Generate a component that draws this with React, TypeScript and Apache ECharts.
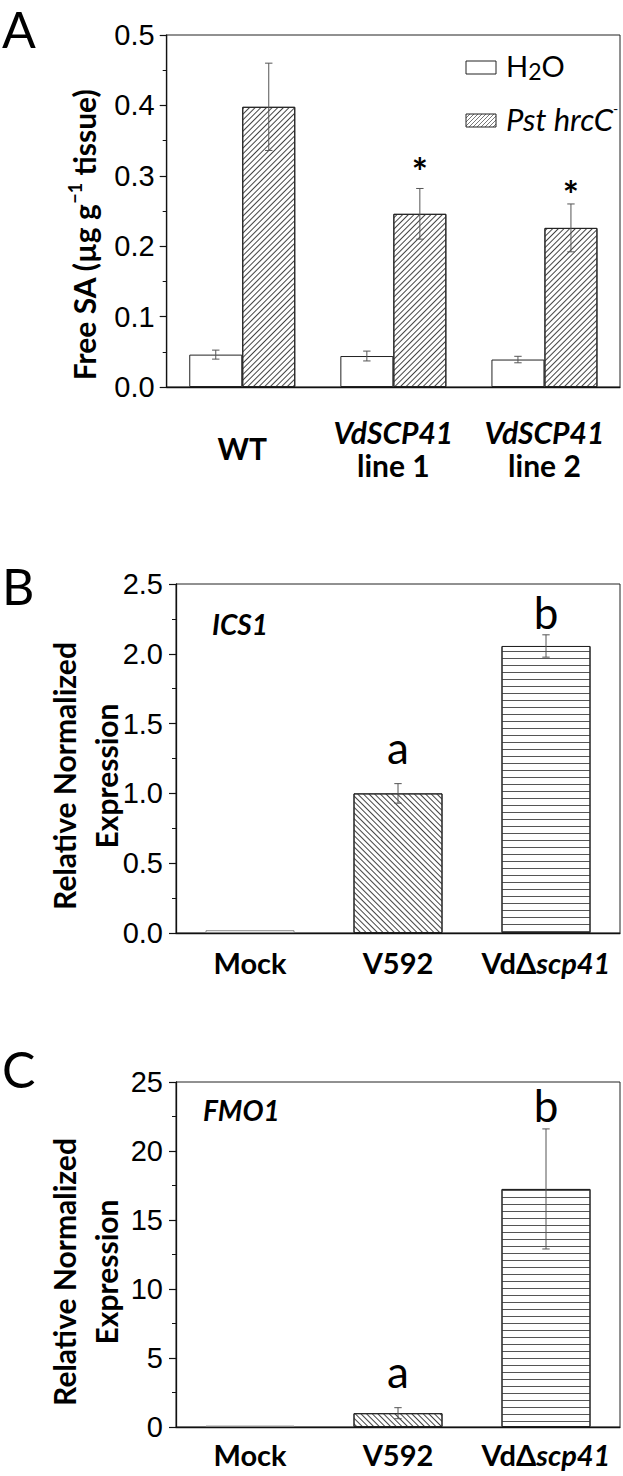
import React, { useEffect, useRef } from "react";
import * as echarts from "echarts";

// ---------- Data ----------
const catsA = ["WT", "VdSCP41\nline 1", "VdSCP41\nline 2"];
const h2oMean = [0.046, 0.044, 0.039];
const h2oErr = [0.0064, 0.007, 0.0046];
const pstMean = [0.398, 0.246, 0.226];
const pstErr = [0.062, 0.036, 0.034];
const starY = [null, 0.319, 0.287];
const yTicksA = [0, 0.1, 0.2, 0.3, 0.4, 0.5];

const catsBC = ["Mock", "V592", "VdΔscp41"];
const ics1Mean = [0.02, 1.0, 2.056];
const ics1Err = [0, 0.07, 0.08];
const ics1Letters = ["", "a", "b"];
const ics1LetterY = [null, 1.226, 2.193];
const yTicksB = [0, 0.5, 1.0, 1.5, 2.0, 2.5];

const fmo1Mean = [0.1, 1.0, 17.25];
const fmo1Err = [0, 0.4, 4.35];
const fmo1Letters = ["", "a", "b"];
const fmo1LetterY = [null, 2.99, 22.25];
const yTicksC = [0, 5, 10, 15, 20, 25];

// ---------- Styles ----------
const SANS = "'Liberation Sans', Arial, sans-serif";
const CAL = "Lato, 'Open Sans', sans-serif";
const AX = "#111";
const W = 623;

const BAR_A = 53;
const BAR_BC = 89;

const hatch = (rotation: number, gap: number, color = "#444") => ({
  symbol: "rect",
  symbolSize: 1,
  dashArrayX: [1, 0],
  dashArrayY: [1, gap],
  rotation,
  color,
});

const grids = [
  { left: 166.7, top: 35, width: 620 - 166.7, height: 352 },
  { left: 176, top: 584, width: 620 - 176, height: 349 },
  { left: 176, top: 1082, width: 620 - 176, height: 345 },
];

function yAxisCfg(gi: number, ticks: number[], dec: number, margin: number) {
  return {
    gridIndex: gi,
    type: "value",
    min: ticks[0],
    max: ticks[ticks.length - 1],
    interval: ticks[1] - ticks[0],
    splitLine: { show: false },
    axisLine: { show: true, lineStyle: { color: AX, width: 1.3 } },
    axisTick: { show: true, length: 7, lineStyle: { color: AX, width: 1.2 } },
    minorTick: { show: true, splitNumber: 2, length: 4, lineStyle: { color: AX, width: 1 } },
    axisLabel: {
      margin,
      fontSize: 29,
      fontFamily: SANS,
      color: "#000",
      formatter: (v: number) => v.toFixed(dec),
    },
  };
}

function xAxisBC(gi: number, margin: number) {
  return {
    gridIndex: gi,
    type: "category",
    data: catsBC,
    axisLine: { lineStyle: { color: AX, width: 1.3 } },
    axisTick: { alignWithLabel: true, length: 7, lineStyle: { color: AX, width: 1.2 } },
    axisLabel: {
      margin,
      interval: 0,
      formatter: (v: string) => {
        if (v.indexOf("Δ") >= 0) {
          const [a, b] = v.split("Δ");
          return "{n|" + a + "Δ}{i|" + b + "}";
        }
        return "{n|" + v + "}";
      },
      rich: {
        n: { fontFamily: CAL, fontWeight: "bold", fontSize: 29, lineHeight: 34, color: "#000" },
        i: { fontFamily: CAL, fontWeight: "bold", fontStyle: "italic", fontSize: 29, lineHeight: 34, color: "#000" },
      },
    },
  };
}

function errRender(offset: number) {
  return (params: any, api: any) => {
    const i = api.value(0);
    const m = api.value(1);
    const e = api.value(2);
    if (!e) return null;
    const t = api.coord([i, m + e]);
    const b = api.coord([i, m - e]);
    const x = t[0] + offset;
    const cap = 3.7;
    const st = { stroke: "#555", lineWidth: 1 };
    return {
      type: "group",
      children: [
        { type: "line", shape: { x1: x, y1: t[1], x2: x, y2: b[1] }, style: st },
        { type: "line", shape: { x1: x - cap, y1: t[1], x2: x + cap, y2: t[1] }, style: st },
        { type: "line", shape: { x1: x - cap, y1: b[1], x2: x + cap, y2: b[1] }, style: st },
      ],
    };
  };
}

function textRender(labels: string[], fontSize: number, weight: string, shiftEm: number, offset: number) {
  return (params: any, api: any) => {
    const i = api.value(0);
    const y = api.value(1);
    const label = labels[params.dataIndex];
    if (!label) return null;
    const c = api.coord([i, y]);
    return {
      type: "text",
      x: c[0] + offset,
      y: c[1] - shiftEm * fontSize,
      style: {
        text: label,
        fontFamily: CAL,
        fontSize,
        fontWeight: weight,
        fill: "#000",
        align: "center",
        verticalAlign: "middle",
      },
    };
  };
}

function legendHatch(L: number, T: number, Wd: number, H: number, s: number) {
  const out: any[] = [];
  for (let t = -H; t < Wd; t += s) {
    const u0 = Math.max(0, -t);
    const u1 = Math.min(H, Wd - t);
    if (u1 <= u0) continue;
    out.push({
      type: "line",
      shape: { x1: L + t + u0, y1: T + H - u0, x2: L + t + u1, y2: T + H - u1 },
      style: { stroke: "#555", lineWidth: 0.8 },
    });
  }
  return out;
}

const panelLetter = (t: string, y: number) => ({
  type: "text",
  x: 2,
  y,
  style: { text: t, fontFamily: CAL, fontSize: 50, lineHeight: 50, fill: "#000", verticalAlign: "middle" },
});

export default function App() {
  const ref = useRef<HTMLDivElement>(null);
  useEffect(() => {
    if (!ref.current) return;
    const chart = echarts.init(ref.current, null, { renderer: "svg" });

    const barStyleBC = [
      { color: "#fff", borderColor: "#888", borderWidth: 1 },
      { color: "#fff", borderColor: "#222", borderWidth: 1, decal: hatch(Math.PI / 4, 3) },
      { color: "#fff", borderColor: "#222", borderWidth: 1, decal: hatch(0, 6, "#555") },
    ];

    const option: any = {
      animation: false,
      grid: grids.map((g) => ({ ...g, show: true, borderColor: "#222", borderWidth: 1, containLabel: false })),
      xAxis: [
        {
          gridIndex: 0,
          type: "category",
          data: catsA,
          axisLine: { lineStyle: { color: AX, width: 1.3 } },
          axisTick: { alignWithLabel: true, length: 7, lineStyle: { color: AX, width: 1.2 } },
          axisLabel: {
            margin: 28,
            interval: 0,
            formatter: (v: string) => {
              const parts = v.split("\n");
              if (parts.length === 1) return "{w|" + v + "}";
              return "{i|" + parts[0] + "}\n{n|" + parts[1] + "}";
            },
            rich: {
              w: { fontFamily: CAL, fontWeight: "bold", fontSize: 30, lineHeight: 66, color: "#000" },
              i: { fontFamily: CAL, fontWeight: "bold", fontStyle: "italic", fontSize: 30, lineHeight: 33, color: "#000" },
              n: { fontFamily: CAL, fontWeight: "bold", fontSize: 30, lineHeight: 33, color: "#000" },
            },
          },
        },
        xAxisBC(1, 12),
        xAxisBC(2, 10),
      ],
      yAxis: [yAxisCfg(0, yTicksA, 1, 12), yAxisCfg(1, yTicksB, 1, 13), yAxisCfg(2, yTicksC, 0, 13)],
      series: [
        {
          name: "H2O",
          type: "bar",
          xAxisIndex: 0,
          yAxisIndex: 0,
          data: h2oMean,
          barWidth: BAR_A,
          barGap: "0%",
          itemStyle: { color: "#fff", borderColor: "#222", borderWidth: 1 },
        },
        {
          name: "Pst hrcC-",
          type: "bar",
          xAxisIndex: 0,
          yAxisIndex: 0,
          data: pstMean,
          barWidth: BAR_A,
          barGap: "0%",
          itemStyle: { color: "#fff", borderColor: "#222", borderWidth: 1, decal: hatch(-Math.PI / 4, 3) },
        },
        {
          type: "custom",
          xAxisIndex: 0,
          yAxisIndex: 0,
          z: 10,
          encode: { x: 0, y: 1 },
          data: h2oMean.map((m, i) => [i, m, h2oErr[i]]),
          renderItem: errRender(-BAR_A / 2),
        },
        {
          type: "custom",
          xAxisIndex: 0,
          yAxisIndex: 0,
          z: 10,
          encode: { x: 0, y: 1 },
          data: pstMean.map((m, i) => [i, m, pstErr[i]]),
          renderItem: errRender(BAR_A / 2),
        },
        {
          type: "custom",
          xAxisIndex: 0,
          yAxisIndex: 0,
          z: 10,
          encode: { x: 0, y: 1 },
          data: starY.map((y, i) => [i, y == null ? 0 : y]),
          renderItem: textRender(starY.map((y) => (y == null ? "" : "*")), 38, "bold", -0.23, BAR_A / 2),
        },
        {
          type: "bar",
          xAxisIndex: 1,
          yAxisIndex: 1,
          barWidth: BAR_BC,
          data: ics1Mean.map((v, i) => ({ value: v, itemStyle: barStyleBC[i] })),
        },
        {
          type: "custom",
          xAxisIndex: 1,
          yAxisIndex: 1,
          z: 10,
          encode: { x: 0, y: 1 },
          data: ics1Mean.map((m, i) => [i, m, ics1Err[i]]),
          renderItem: errRender(0),
        },
        {
          type: "custom",
          xAxisIndex: 1,
          yAxisIndex: 1,
          z: 10,
          encode: { x: 0, y: 1 },
          data: ics1LetterY.map((y, i) => [i, y == null ? 0 : y]),
          renderItem: textRender(ics1Letters, 44, "normal", 0.33, 0),
        },
        {
          type: "bar",
          xAxisIndex: 2,
          yAxisIndex: 2,
          barWidth: BAR_BC,
          data: fmo1Mean.map((v, i) => ({ value: v, itemStyle: barStyleBC[i] })),
        },
        {
          type: "custom",
          xAxisIndex: 2,
          yAxisIndex: 2,
          z: 10,
          encode: { x: 0, y: 1 },
          data: fmo1Mean.map((m, i) => [i, m, fmo1Err[i]]),
          renderItem: errRender(0),
        },
        {
          type: "custom",
          xAxisIndex: 2,
          yAxisIndex: 2,
          z: 10,
          encode: { x: 0, y: 1 },
          data: fmo1LetterY.map((y, i) => [i, y == null ? 0 : y]),
          renderItem: textRender(fmo1Letters, 44, "normal", 0.33, 0),
        },
      ],
      graphic: [
        panelLetter("A", 29),
        panelLetter("B", 586),
        panelLetter("C", 1069),
        // y titles
        {
          type: "text",
          x: 84,
          y: 235,
          rotation: Math.PI / 2,
          style: {
            text: "{n|Free SA (µg g}{s|−1}{n| tissue)}",
            align: "center",
            verticalAlign: "middle",
            rich: {
              n: { fontFamily: CAL, fontWeight: "bold", fontSize: 30, lineHeight: 36, fill: "#000" },
              s: { fontFamily: CAL, fontWeight: "bold", fontSize: 18, lineHeight: 18, verticalAlign: "top", fill: "#000" },
            },
          },
        },
        {
          type: "text",
          x: 85,
          y: 776,
          rotation: Math.PI / 2,
          style: {
            text: "Relative Normalized\nExpression",
            align: "center",
            verticalAlign: "middle",
            fontFamily: CAL,
            fontWeight: "bold",
            fontSize: 30,
            lineHeight: 42,
            fill: "#000",
          },
        },
        {
          type: "text",
          x: 85,
          y: 1272,
          rotation: Math.PI / 2,
          style: {
            text: "Relative Normalized\nExpression",
            align: "center",
            verticalAlign: "middle",
            fontFamily: CAL,
            fontWeight: "bold",
            fontSize: 30,
            lineHeight: 42,
            fill: "#000",
          },
        },
        // gene labels
        {
          type: "text",
          x: 212,
          y: 624,
          style: { text: "ICS1", fontFamily: CAL, fontWeight: "bold", fontStyle: "italic", fontSize: 28, fill: "#000", verticalAlign: "middle" },
        },
        {
          type: "text",
          x: 203,
          y: 1110,
          style: { text: "FMO1", fontFamily: CAL, fontWeight: "bold", fontStyle: "italic", fontSize: 28, fill: "#000", verticalAlign: "middle" },
        },
        // legend
        { type: "rect", shape: { x: 466, y: 61, width: 30, height: 13 }, style: { fill: "#fff", stroke: "#222", lineWidth: 1 } },
        {
          type: "text",
          x: 506,
          y: 65,
          style: {
            text: "{n|H}{s|2}{n|O}",
            verticalAlign: "middle",
            rich: {
              n: { fontFamily: CAL, fontSize: 29, lineHeight: 34, fill: "#000" },
              s: { fontFamily: CAL, fontSize: 23, lineHeight: 23, verticalAlign: "bottom", fill: "#000" },
            },
          },
        },
        ...legendHatch(466, 114, 30, 13, 4),
        { type: "rect", shape: { x: 466, y: 114, width: 30, height: 13 }, style: { fill: "none", stroke: "#222", lineWidth: 1 } },
        {
          type: "text",
          x: 506,
          y: 119,
          style: {
            text: "{n|Pst hrcC}{s|-}",
            verticalAlign: "middle",
            rich: {
              n: { fontFamily: CAL, fontStyle: "italic", fontSize: 31, lineHeight: 36, fill: "#000" },
              s: { fontFamily: CAL, fontSize: 14, lineHeight: 14, verticalAlign: "top", fill: "#000" },
            },
          },
        },
      ],
    };
    chart.setOption(option);
    return () => chart.dispose();
  }, []);
  return <div ref={ref} style={{ position: "absolute", left: 0, top: 0, width: W, height: 1476, background: "#fff" }} />;
}
